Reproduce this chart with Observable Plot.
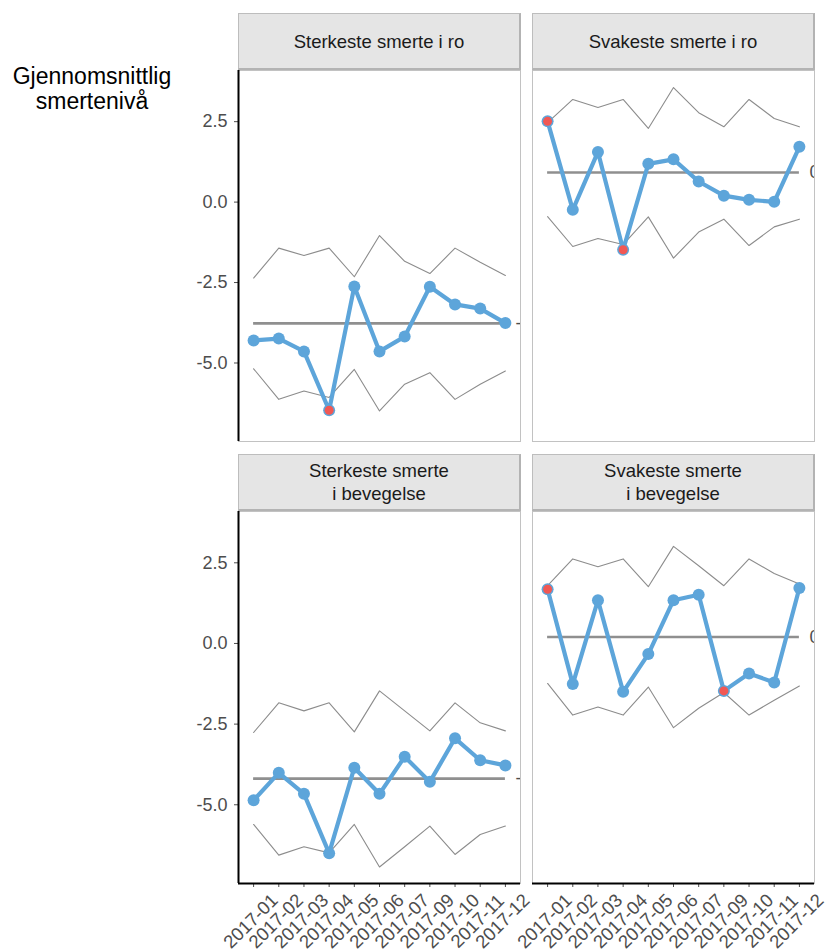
<!DOCTYPE html>
<html>
<head>
<meta charset="utf-8">
<script src="https://cdn.jsdelivr.net/npm/d3@7"></script>
<script src="https://cdn.jsdelivr.net/npm/@observablehq/plot@0.6"></script>
<style>
  body { margin: 0; background: white; font-family: "Liberation Sans", Arial, sans-serif; }
  #chart { position: relative; width: 828px; height: 951px; overflow: hidden; background: white; }
  #chart svg { position: absolute; left: 0; top: 0; pointer-events: none; }
  .strip { position: absolute; box-sizing: border-box; background: #e5e5e5;
           border: 1px solid #bdbdbd; border-bottom: 2px solid #b3b3b3; border-right: 2px solid #b3b3b3;
           display: flex; align-items: center; justify-content: center; text-align: center;
           font-size: 18.5px; line-height: 23px; color: #1a1a1a; white-space: pre; }
  #ylabel { position: absolute; left: 0; top: 64px; width: 184px; text-align: center;
            font-size: 23px; line-height: 25px; color: #000; }
</style>
</head>
<body>
<div id="chart">
  <div id="ylabel">Gjennomsnittlig<br>smertenivå</div>
</div>
<script>
// ---- data ----
const months = ["2017-01","2017-02","2017-03","2017-04","2017-05","2017-06","2017-07","2017-09","2017-10","2017-11","2017-12"];
const titles = ["Sterkeste smerte i ro", "Svakeste smerte i ro", "Sterkeste smerte\ni bevegelse", "Svakeste smerte\ni bevegelse"];
const yTicks = [-5, -2.5, 0, 2.5];

const sterkRoValues = [-4.30, -4.24, -4.64, -6.47, -2.62, -4.64, -4.18, -2.63, -3.18, -3.31, -3.76];
const sterkRoUpper  = [-2.36, -1.43, -1.66, -1.43, -2.32, -1.04, -1.84, -2.22, -1.43, -1.87, -2.28];
const sterkRoLower  = [-5.18, -6.13, -5.87, -6.07, -5.20, -6.49, -5.66, -5.30, -6.13, -5.66, -5.25];
const sterkRoCenter = -3.77;
const sterkRoRed    = [3];

const svakRoValues = [2.51, -0.24, 1.56, -1.48, 1.19, 1.33, 0.64, 0.20, 0.07, 0.01, 1.72];
const svakRoUpper  = [2.47, 3.19, 2.94, 3.19, 2.29, 3.56, 2.78, 2.34, 3.19, 2.60, 2.34];
const svakRoLower  = [-0.45, -1.38, -1.13, -1.32, -0.46, -1.74, -0.93, -0.53, -1.35, -0.77, -0.53];
const svakRoCenter = 0.92;
const svakRoRed    = [0, 3];

const sterkBevValues = [-4.86, -4.01, -4.66, -6.50, -3.85, -4.66, -3.51, -4.29, -2.94, -3.62, -3.78];
const sterkBevUpper  = [-2.76, -1.84, -2.09, -1.84, -2.74, -1.47, -2.09, -2.71, -1.84, -2.46, -2.71];
const sterkBevLower  = [-5.61, -6.56, -6.30, -6.49, -5.61, -6.93, -6.30, -5.66, -6.54, -5.92, -5.66];
const sterkBevCenter = -4.19;
const sterkBevRed    = [];

const svakBevValues = [1.68, -1.26, 1.34, -1.50, -0.33, 1.34, 1.51, -1.47, -0.93, -1.21, 1.72];
const svakBevUpper  = [1.79, 2.62, 2.38, 2.62, 1.76, 3.01, 2.41, 1.79, 2.62, 2.17, 1.84];
const svakBevLower  = [-1.24, -2.22, -1.97, -2.22, -1.35, -2.61, -2.01, -1.52, -2.22, -1.76, -1.32];
const svakBevCenter = 0.20;
const svakBevRed    = [0, 7];

// ---- layout ----
const W = 828, H = 951;
const xDomain = [-0.6, months.length - 1 + 0.6];
const yDomain = [-7.44, 4.09];
const BLUE = "#5DA5DA", RED = "#F15854", GREY = "#8c8c8c", TXT = "#4d4d4d";
const FONT = '"Liberation Sans", Arial, sans-serif';

const panels = [
  {title: titles[0], values: sterkRoValues, upper: sterkRoUpper, lower: sterkRoLower, center: sterkRoCenter, red: sterkRoRed,
   left: 238, right: 520, top: 70, bottom: 441, stripTop: 13, yAxis: true, xAxis: false},
  {title: titles[1], values: svakRoValues, upper: svakRoUpper, lower: svakRoLower, center: svakRoCenter, red: svakRoRed,
   left: 532, right: 814, top: 70, bottom: 441, stripTop: 13, yAxis: false, xAxis: false},
  {title: titles[2], values: sterkBevValues, upper: sterkBevUpper, lower: sterkBevLower, center: sterkBevCenter, red: sterkBevRed,
   left: 238, right: 520, top: 511, bottom: 883, stripTop: 454, yAxis: true, xAxis: true},
  {title: titles[3], values: svakBevValues, upper: svakBevUpper, lower: svakBevLower, center: svakBevCenter, red: svakBevRed,
   left: 532, right: 814, top: 511, bottom: 883, stripTop: 454, yAxis: false, xAxis: true}
];

const chart = document.getElementById("chart");
const fmt = v => v.toFixed(1);

for (const p of panels) {
  const rows = months.map((m, i) => ({i, month: m, value: p.values[i], upper: p.upper[i], lower: p.lower[i], red: p.red.includes(i)}));
  const last = months.length - 1;
  const marks = [
    Plot.frame({stroke: "#c2c2c2", strokeWidth: 1}),
    Plot.line(rows, {x: "i", y: "upper", stroke: GREY, strokeWidth: 1.1}),
    Plot.line(rows, {x: "i", y: "lower", stroke: GREY, strokeWidth: 1.1}),
    Plot.ruleY([p.center], {x1: () => 0, x2: () => last, stroke: "#8f8f8f", strokeWidth: 2.6}),
    Plot.text([p.center], {x: () => last, y: d => d, text: d => fmt(d), dx: 10, textAnchor: "start",
                           fill: TXT, fontSize: 18, clip: true}),
    Plot.line(rows, {x: "i", y: "value", stroke: BLUE, strokeWidth: 4.2, strokeLinejoin: "round"}),
    Plot.dot(rows, {x: "i", y: "value", r: 6, fill: BLUE}),
    Plot.dot(rows.filter(r => r.red), {x: "i", y: "value", r: 4.5, fill: RED})
  ];
  if (p.yAxis) marks.push(Plot.ruleX([xDomain[0]], {stroke: "black", strokeWidth: 2}));
  if (p.xAxis) {
    marks.push(Plot.ruleY([yDomain[0]], {stroke: "black", strokeWidth: 2}));
    marks.push(Plot.text(rows, {x: "i", text: "month", frameAnchor: "bottom", dy: 42, dx: 1.5, rotate: -45,
                                textAnchor: "middle", fill: TXT, fontSize: 18.5}));
  }
  const svg = Plot.plot({
    width: W, height: H,
    marginLeft: p.left, marginRight: W - p.right, marginTop: p.top, marginBottom: H - p.bottom,
    style: {background: "none", fontFamily: FONT, fontSize: "18px", color: TXT, overflow: "visible"},
    x: p.xAxis
      ? {domain: xDomain, ticks: d3.range(months.length), tickFormat: () => "", tickSize: 4, label: null}
      : {domain: xDomain, axis: null},
    y: p.yAxis
      ? {domain: yDomain, ticks: yTicks, tickFormat: d => fmt(d), tickSize: 4, tickPadding: 7, label: null}
      : {domain: yDomain, axis: null},
    marks
  });
  chart.appendChild(svg);

  const strip = document.createElement("div");
  strip.className = "strip";
  strip.style.left = p.left + "px";
  strip.style.top = p.stripTop + "px";
  strip.style.width = (p.right - p.left + 1) + "px";
  strip.style.height = (p.top - p.stripTop) + "px";
  strip.textContent = p.title;
  chart.appendChild(strip);
}
</script>
</body>
</html>
